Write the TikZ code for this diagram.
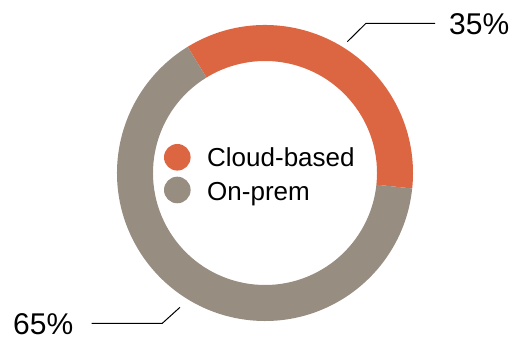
\documentclass[tikz,border=0pt]{standalone}
\usepackage{fontspec}
\setmainfont{Liberation Sans}
\definecolor{cloudc}{RGB}{221,102,66}
\definecolor{premc}{RGB}{151,141,129}
\begin{document}
\begin{tikzpicture}[x=1pt,y=1pt,
  pct/.style={anchor=base west,inner sep=0pt,font=\fontsize{30}{30}\selectfont},
  legtext/.style={anchor=base west,inner sep=0pt,font=\fontsize{26}{26}\selectfont},
  leader/.style={draw=black,line width=1pt}]
\useasboundingbox (0,0) rectangle (514,339);
\coordinate (c) at (265,166);
% donut
\fill[cloudc] ([shift={(121.5:148)}]c) arc[start angle=121.5,end angle=-6,radius=148]
  -- ([shift={(-6:112)}]c) arc[start angle=-6,end angle=121.5,radius=112] -- cycle;
\fill[premc] ([shift={(-6:148)}]c) arc[start angle=-6,end angle=-238.5,radius=148]
  -- ([shift={(-238.5:112)}]c) arc[start angle=-238.5,end angle=-6,radius=112] -- cycle;
% leaders
\coordinate (a1) at (347.3,297.3);
\coordinate (a2) at (366,315.7);
\coordinate (a3) at (435,315.7);
\coordinate (b1) at (180,31.7);
\coordinate (b2) at (162.3,15.7);
\coordinate (b3) at (91.7,15.7);
\draw[leader] (a1) -- (a2) -- (a3);
\draw[leader] (b1) -- (b2) -- (b3);
\node[pct] (p35) at (449,304.5) {35\%};
\node[pct] (p65) at (13,4) {65\%};
% legend
\fill[cloudc] (177.3,181.7) circle (13.3);
\fill[premc] (177.3,149) circle (13.3);
\node[legtext] (l1) at (207,172) {Cloud-based};
\node[legtext] (l2) at (207,138.5) {On-prem};
\end{tikzpicture}
\end{document}
